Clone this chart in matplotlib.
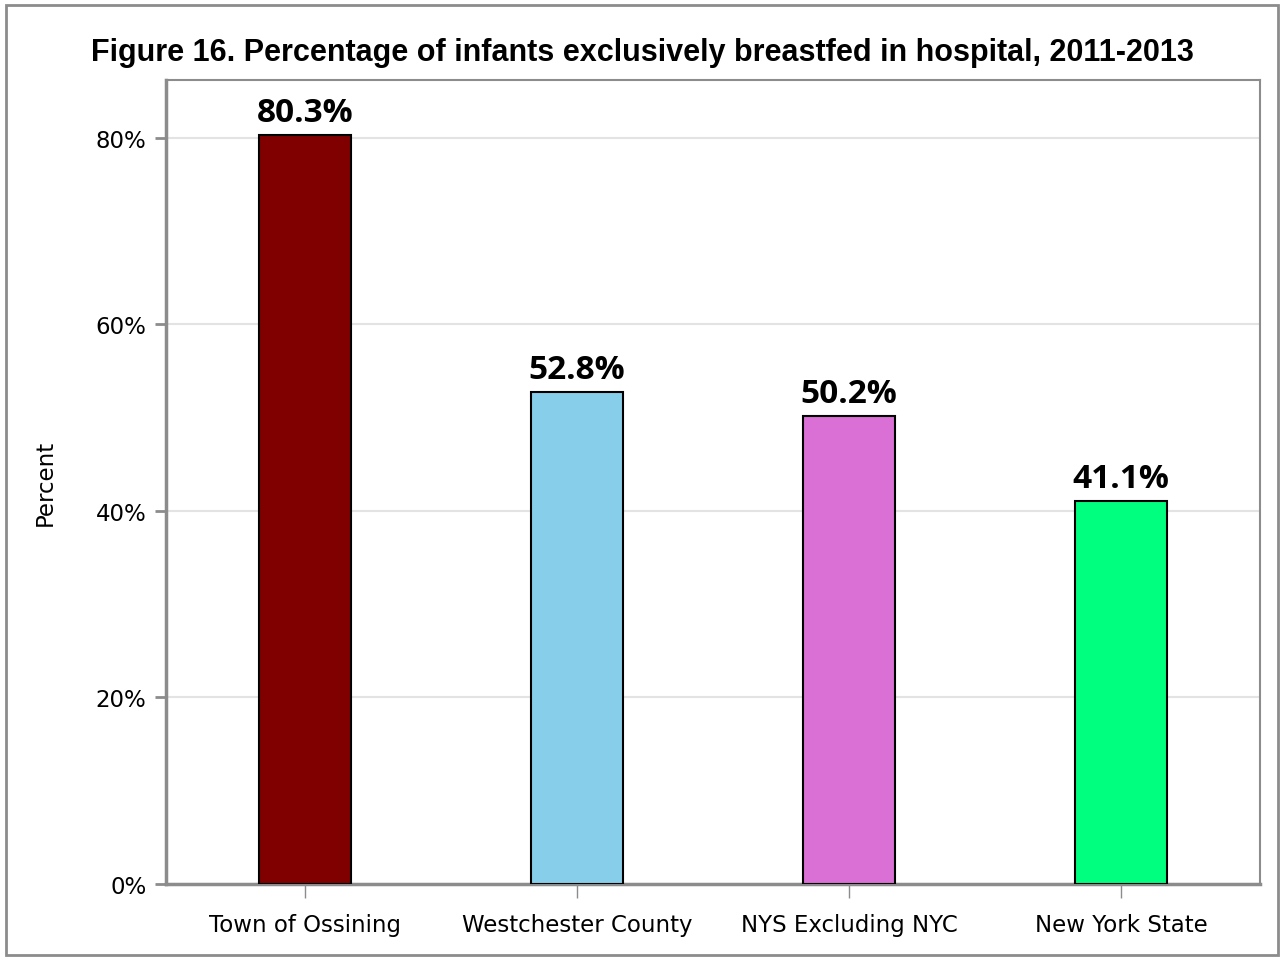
import matplotlib.pyplot as plt
from matplotlib.patches import Rectangle

# data
regions = ["Town of Ossining", "Westchester County", "NYS Excluding NYC", "New York State"]
pct = [80.3, 52.8, 50.2, 41.1]
colors = ["#800000", "#87ceeb", "#da70d6", "#00ff7f"]
yticks = [0, 20, 40, 60, 80]

fig = plt.figure(figsize=(12.84, 9.62), dpi=100)
ax = fig.add_axes([166/1284, 1 - 885/962, (1260-166)/1284, (885-81)/962])

x = range(len(regions))
bars = ax.bar(x, pct, width=0.34, color=colors, edgecolor="black", linewidth=1.5, zorder=3)
for b, v in zip(bars, pct):
    ax.text(b.get_x() + b.get_width()/2, v + 0.6, f"{v}%", ha="center", va="bottom",
            fontsize=24, fontweight="bold", family="Open Sans")

ax.set_xlim(-0.51, 3.51)
ax.set_ylim(0, 86.2)
ax.set_xticks(list(x))
ax.set_xticklabels(regions, fontsize=16.5, family="DejaVu Sans")
ax.set_yticks(yticks)
ax.set_yticklabels([f"{t}%" for t in yticks], fontsize=16.5, family="DejaVu Sans")
ax.set_ylabel("Percent", fontsize=16.5, family="DejaVu Sans", labelpad=28)
ax.grid(axis="y", color="#e3e3e3", linewidth=1.5, zorder=0)
ax.tick_params(axis="y", length=8, width=2, color="#8c8c8c", pad=6)
ax.tick_params(axis="x", length=10, width=1, color="#8c8c8c", pad=11)
for s in ax.spines.values():
    s.set_color("#8c8c8c")
    s.set_linewidth(1.5)
ax.spines["left"].set_linewidth(2.5)
ax.spines["bottom"].set_linewidth(2.5)

fig.text(0.5, 1 - 53/962, "Figure 16. Percentage of infants exclusively breastfed in hospital, 2011-2013",
         ha="center", va="center", fontsize=22, fontweight="bold", family="Liberation Sans")

fig.patches.append(Rectangle((6/1284, 6/962), 1 - 12/1284, 1 - 12/962, transform=fig.transFigure,
                             fill=False, edgecolor="#8c8c8c", linewidth=2))

fig.savefig("out.png", dpi=100)
